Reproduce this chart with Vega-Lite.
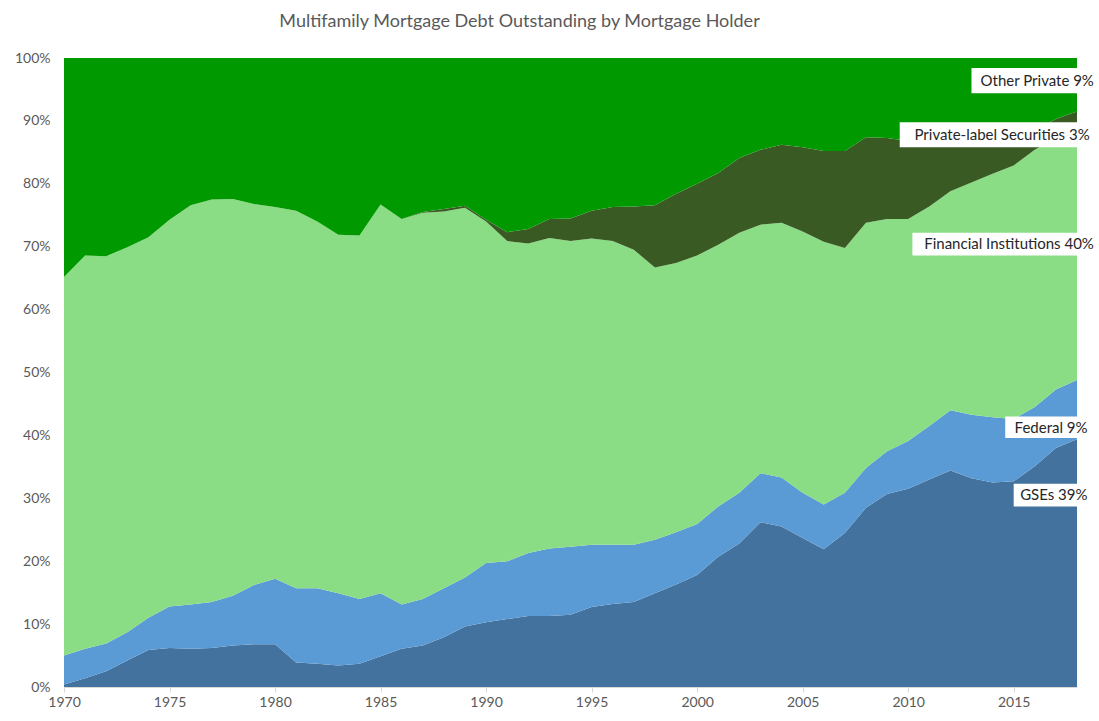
{
  "$schema": "https://vega.github.io/schema/vega-lite/v6.json",
  "width": 1013,
  "height": 629,
  "autosize": {"type": "none"},
  "padding": {"left": 64, "top": 58, "right": 22, "bottom": 34},
  "background": "white",
  "title": {
    "text": "Multifamily Mortgage Debt Outstanding by Mortgage Holder",
    "font": "Lato",
    "fontSize": 18,
    "fontWeight": "normal",
    "color": "#595959",
    "anchor": "middle",
    "dx": -51,
    "offset": 20
  },
  "config": {
    "view": {"stroke": null},
    "font": "Lato"
  },
  "layer": [
    {
      "data": {
        "values": [
          {"year": 1970, "GSEs": 0.4, "Federal": 4.6, "Financial Institutions": 60.2, "Private-label Securities": 0, "Other Private": 34.8},
          {"year": 1971, "GSEs": 1.4, "Federal": 4.7, "Financial Institutions": 62.5, "Private-label Securities": 0, "Other Private": 31.4},
          {"year": 1972, "GSEs": 2.5, "Federal": 4.4, "Financial Institutions": 61.6, "Private-label Securities": 0, "Other Private": 31.5},
          {"year": 1973, "GSEs": 4.2, "Federal": 4.5, "Financial Institutions": 61.2, "Private-label Securities": 0, "Other Private": 30.1},
          {"year": 1974, "GSEs": 5.9, "Federal": 5.1, "Financial Institutions": 60.5, "Private-label Securities": 0, "Other Private": 28.5},
          {"year": 1975, "GSEs": 6.2, "Federal": 6.6, "Financial Institutions": 61.5, "Private-label Securities": 0, "Other Private": 25.7},
          {"year": 1976, "GSEs": 6.1, "Federal": 7.0, "Financial Institutions": 63.5, "Private-label Securities": 0, "Other Private": 23.4},
          {"year": 1977, "GSEs": 6.2, "Federal": 7.3, "Financial Institutions": 64.0, "Private-label Securities": 0, "Other Private": 22.5},
          {"year": 1978, "GSEs": 6.6, "Federal": 7.9, "Financial Institutions": 63.1, "Private-label Securities": 0, "Other Private": 22.4},
          {"year": 1979, "GSEs": 6.8, "Federal": 9.4, "Financial Institutions": 60.6, "Private-label Securities": 0, "Other Private": 23.2},
          {"year": 1980, "GSEs": 6.8, "Federal": 10.4, "Financial Institutions": 59.1, "Private-label Securities": 0, "Other Private": 23.7},
          {"year": 1981, "GSEs": 3.9, "Federal": 11.8, "Financial Institutions": 60.0, "Private-label Securities": 0, "Other Private": 24.3},
          {"year": 1982, "GSEs": 3.7, "Federal": 12.0, "Financial Institutions": 58.3, "Private-label Securities": 0, "Other Private": 26.0},
          {"year": 1983, "GSEs": 3.4, "Federal": 11.5, "Financial Institutions": 57.0, "Private-label Securities": 0, "Other Private": 28.1},
          {"year": 1984, "GSEs": 3.7, "Federal": 10.3, "Financial Institutions": 57.8, "Private-label Securities": 0, "Other Private": 28.2},
          {"year": 1985, "GSEs": 4.9, "Federal": 10.0, "Financial Institutions": 61.8, "Private-label Securities": 0, "Other Private": 23.3},
          {"year": 1986, "GSEs": 6.1, "Federal": 7.0, "Financial Institutions": 61.3, "Private-label Securities": 0, "Other Private": 25.6},
          {"year": 1987, "GSEs": 6.6, "Federal": 7.4, "Financial Institutions": 61.4, "Private-label Securities": 0.1, "Other Private": 24.5},
          {"year": 1988, "GSEs": 7.9, "Federal": 7.8, "Financial Institutions": 59.9, "Private-label Securities": 0.4, "Other Private": 24.0},
          {"year": 1989, "GSEs": 9.6, "Federal": 7.8, "Financial Institutions": 58.8, "Private-label Securities": 0.3, "Other Private": 23.5},
          {"year": 1990, "GSEs": 10.3, "Federal": 9.4, "Financial Institutions": 54.3, "Private-label Securities": 0.3, "Other Private": 25.7},
          {"year": 1991, "GSEs": 10.8, "Federal": 9.2, "Financial Institutions": 50.9, "Private-label Securities": 1.4, "Other Private": 27.7},
          {"year": 1992, "GSEs": 11.3, "Federal": 10.0, "Financial Institutions": 49.2, "Private-label Securities": 2.3, "Other Private": 27.2},
          {"year": 1993, "GSEs": 11.3, "Federal": 10.7, "Financial Institutions": 49.4, "Private-label Securities": 3.0, "Other Private": 25.6},
          {"year": 1994, "GSEs": 11.5, "Federal": 10.8, "Financial Institutions": 48.6, "Private-label Securities": 3.6, "Other Private": 25.5},
          {"year": 1995, "GSEs": 12.7, "Federal": 9.9, "Financial Institutions": 48.7, "Private-label Securities": 4.4, "Other Private": 24.3},
          {"year": 1996, "GSEs": 13.2, "Federal": 9.4, "Financial Institutions": 48.3, "Private-label Securities": 5.4, "Other Private": 23.7},
          {"year": 1997, "GSEs": 13.5, "Federal": 9.1, "Financial Institutions": 46.9, "Private-label Securities": 6.9, "Other Private": 23.6},
          {"year": 1998, "GSEs": 14.9, "Federal": 8.5, "Financial Institutions": 43.3, "Private-label Securities": 9.9, "Other Private": 23.4},
          {"year": 1999, "GSEs": 16.3, "Federal": 8.3, "Financial Institutions": 42.8, "Private-label Securities": 11.0, "Other Private": 21.6},
          {"year": 2000, "GSEs": 17.8, "Federal": 8.1, "Financial Institutions": 42.7, "Private-label Securities": 11.4, "Other Private": 20.0},
          {"year": 2001, "GSEs": 20.7, "Federal": 8.0, "Financial Institutions": 41.6, "Private-label Securities": 11.4, "Other Private": 18.3},
          {"year": 2002, "GSEs": 22.8, "Federal": 8.1, "Financial Institutions": 41.3, "Private-label Securities": 11.9, "Other Private": 15.9},
          {"year": 2003, "GSEs": 26.2, "Federal": 7.8, "Financial Institutions": 39.5, "Private-label Securities": 11.9, "Other Private": 14.6},
          {"year": 2004, "GSEs": 25.5, "Federal": 7.8, "Financial Institutions": 40.5, "Private-label Securities": 12.4, "Other Private": 13.8},
          {"year": 2005, "GSEs": 23.7, "Federal": 7.2, "Financial Institutions": 41.5, "Private-label Securities": 13.4, "Other Private": 14.2},
          {"year": 2006, "GSEs": 21.9, "Federal": 7.1, "Financial Institutions": 41.8, "Private-label Securities": 14.4, "Other Private": 14.8},
          {"year": 2007, "GSEs": 24.5, "Federal": 6.4, "Financial Institutions": 38.9, "Private-label Securities": 15.4, "Other Private": 14.8},
          {"year": 2008, "GSEs": 28.5, "Federal": 6.3, "Financial Institutions": 39.0, "Private-label Securities": 13.6, "Other Private": 12.6},
          {"year": 2009, "GSEs": 30.7, "Federal": 6.8, "Financial Institutions": 36.9, "Private-label Securities": 12.9, "Other Private": 12.7},
          {"year": 2010, "GSEs": 31.5, "Federal": 7.6, "Financial Institutions": 35.3, "Private-label Securities": 12.4, "Other Private": 13.2},
          {"year": 2011, "GSEs": 33.0, "Federal": 8.5, "Financial Institutions": 34.9, "Private-label Securities": 10.1, "Other Private": 13.5},
          {"year": 2012, "GSEs": 34.4, "Federal": 9.6, "Financial Institutions": 34.8, "Private-label Securities": 7.6, "Other Private": 13.6},
          {"year": 2013, "GSEs": 33.2, "Federal": 10.1, "Financial Institutions": 36.9, "Private-label Securities": 6.4, "Other Private": 13.4},
          {"year": 2014, "GSEs": 32.5, "Federal": 10.4, "Financial Institutions": 38.7, "Private-label Securities": 5.4, "Other Private": 13.0},
          {"year": 2015, "GSEs": 32.7, "Federal": 9.9, "Financial Institutions": 40.3, "Private-label Securities": 4.6, "Other Private": 12.5},
          {"year": 2016, "GSEs": 35.1, "Federal": 9.4, "Financial Institutions": 40.9, "Private-label Securities": 3.2, "Other Private": 11.4},
          {"year": 2017, "GSEs": 38.0, "Federal": 9.3, "Financial Institutions": 40.0, "Private-label Securities": 3.0, "Other Private": 9.7},
          {"year": 2018, "GSEs": 39.4, "Federal": 9.4, "Financial Institutions": 39.5, "Private-label Securities": 3.2, "Other Private": 8.5}
        ]
      },
      "transform": [
        {"fold": ["GSEs", "Federal", "Financial Institutions", "Private-label Securities", "Other Private"], "as": ["holder", "share"]},
        {"calculate": "indexof(['GSEs', 'Federal', 'Financial Institutions', 'Private-label Securities', 'Other Private'], datum.holder)", "as": "rank"}
      ],
      "mark": {"type": "area", "interpolate": "linear"},
      "encoding": {
        "x": {
          "field": "year",
          "type": "quantitative",
          "scale": {"domain": [1970, 2018], "nice": false, "zero": false},
          "axis": {
            "title": null,
            "values": [1970, 1975, 1980, 1985, 1990, 1995, 2000, 2005, 2010, 2015],
            "format": "d",
            "grid": false,
            "domainColor": "#D9D9D9",
            "tickColor": "#D9D9D9",
            "tickSize": 5,
            "labelColor": "#595959",
            "labelFontSize": 14,
            "labelPadding": 3,
            "labelFlush": false,
            "labelFont": "Lato"
          }
        },
        "y": {
          "field": "share",
          "type": "quantitative",
          "stack": "zero",
          "scale": {"domain": [0, 100], "nice": false},
          "axis": {
            "title": null,
            "values": [0, 10, 20, 30, 40, 50, 60, 70, 80, 90, 100],
            "labelExpr": "datum.value + '%'",
            "grid": false,
            "domain": false,
            "ticks": false,
            "tickSize": 0,
            "labelPadding": 14,
            "labelFlush": false,
            "labelColor": "#595959",
            "labelFontSize": 14,
            "labelFont": "Lato"
          }
        },
        "order": {"field": "rank", "type": "quantitative", "sort": "ascending"},
        "color": {
          "field": "holder",
          "type": "nominal",
          "scale": {
            "domain": ["GSEs", "Federal", "Financial Institutions", "Private-label Securities", "Other Private"],
            "range": ["#42729D", "#5B9BD5", "#8ADC85", "#3A5A24", "#009900"]
          },
          "legend": null
        }
      }
    },
    {
      "data": {
        "values": [
          {"label": "Other Private 9%", "x0": 2013.0, "x1": 2019.2, "ytop": 98.4, "ybot": 94.4, "tx": 2018.8, "ty": 96.3},
          {"label": "Private-label Securities 3%", "x0": 2009.6, "x1": 2019.2, "ytop": 89.8, "ybot": 85.8, "tx": 2018.6, "ty": 87.7},
          {"label": "Financial Institutions 40%", "x0": 2010.2, "x1": 2019.2, "ytop": 72.2, "ybot": 68.6, "tx": 2018.8, "ty": 70.4},
          {"label": "Federal 9%", "x0": 2014.6, "x1": 2019.0, "ytop": 43.0, "ybot": 39.6, "tx": 2018.5, "ty": 41.2},
          {"label": "GSEs 39%", "x0": 2015.0, "x1": 2019.0, "ytop": 32.3, "ybot": 28.7, "tx": 2018.5, "ty": 30.5}
        ]
      },
      "layer": [
        {
          "mark": {"type": "rect", "fill": "white"},
          "encoding": {
            "x": {"field": "x0", "type": "quantitative"},
            "x2": {"field": "x1"},
            "y": {"field": "ytop", "type": "quantitative"},
            "y2": {"field": "ybot"}
          }
        },
        {
          "mark": {"type": "text", "align": "right", "baseline": "middle", "font": "Lato", "fontSize": 15, "color": "#262626"},
          "encoding": {
            "x": {"field": "tx", "type": "quantitative"},
            "y": {"field": "ty", "type": "quantitative"},
            "text": {"field": "label"}
          }
        }
      ]
    }
  ]
}
